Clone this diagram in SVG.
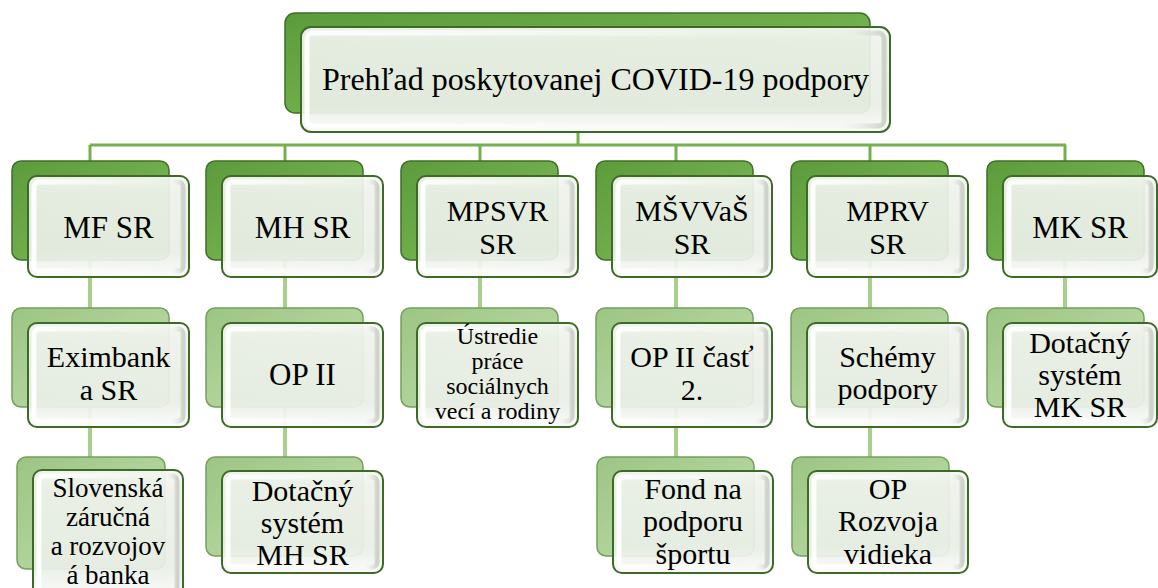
<svg xmlns="http://www.w3.org/2000/svg" width="1158" height="588" viewBox="0 0 1158 588">
<defs>
<linearGradient id="gDark" x1="0" y1="0" x2="1" y2="1">
<stop offset="0" stop-color="#5c9b3b"/>
<stop offset="0.5" stop-color="#6fad4b"/>
<stop offset="1" stop-color="#93c46f"/>
</linearGradient>
<linearGradient id="gLight" x1="0" y1="0" x2="1" y2="1">
<stop offset="0" stop-color="#9cc583"/>
<stop offset="0.5" stop-color="#afd299"/>
<stop offset="1" stop-color="#c7e0b6"/>
</linearGradient>
<linearGradient id="gFront" x1="0" y1="0" x2="0" y2="1">
<stop offset="0" stop-color="#f6f8f4"/>
<stop offset="0.15" stop-color="#eef2eb"/>
<stop offset="0.75" stop-color="#e9eee6"/>
<stop offset="1" stop-color="#fafbf9"/>
</linearGradient>
<linearGradient id="gBevel" x1="0" y1="0" x2="1" y2="0">
<stop offset="0" stop-color="#ffffff" stop-opacity="0.9"/>
<stop offset="0.9" stop-color="#ffffff" stop-opacity="0"/>
<stop offset="1" stop-color="#c9cfc6" stop-opacity="0.9"/>
</linearGradient>
</defs>
<style>
.bd{fill:url(#gDark);stroke:#3f6f29;stroke-width:1.5}
.bl{fill:url(#gLight);stroke:#759f5d;stroke-width:1.5}
.fr{fill:url(#gFront);fill-opacity:0.93;stroke:#3e6a27;stroke-width:2}
.bv{fill:none;stroke:url(#gBevel);stroke-width:5}
.cm{stroke:#74b04d;stroke-width:3;fill:none}
.cl{stroke:#a9cf8f;stroke-width:4;fill:none}
.tx{font-family:"Liberation Serif","Times New Roman",Tinos,"Noto Serif","DejaVu Serif",FreeSerif,Times,serif;fill:#000;text-anchor:middle}
.t0{font-size:32px}
.t1{font-size:31px}
.t2{font-size:30px}
.ts{font-size:24px}
.tm{font-size:27px}
</style>
<rect width="1158" height="588" fill="#ffffff"/>
<g id="connectors">
<line class="cm" x1="578" y1="130" x2="578" y2="145"/>
<line class="cm" x1="90" y1="145" x2="1066" y2="145"/>
<line class="cm" x1="90" y1="145" x2="90" y2="162"/>
<line class="cm" x1="285" y1="145" x2="285" y2="162"/>
<line class="cm" x1="480" y1="145" x2="480" y2="162"/>
<line class="cm" x1="676" y1="145" x2="676" y2="162"/>
<line class="cm" x1="870" y1="145" x2="870" y2="162"/>
<line class="cm" x1="1065" y1="145" x2="1065" y2="162"/>
<line class="cl" x1="90" y1="260" x2="90" y2="309"/>
<line class="cl" x1="285" y1="260" x2="285" y2="309"/>
<line class="cl" x1="480" y1="260" x2="480" y2="309"/>
<line class="cl" x1="676" y1="260" x2="676" y2="309"/>
<line class="cl" x1="870" y1="260" x2="870" y2="309"/>
<line class="cl" x1="1065" y1="260" x2="1065" y2="309"/>
<line class="cl" x1="90" y1="407" x2="90" y2="458"/>
<line class="cl" x1="285" y1="407" x2="285" y2="458"/>
<line class="cl" x1="676" y1="407" x2="676" y2="458"/>
<line class="cl" x1="870" y1="407" x2="870" y2="458"/>
</g>
<g id="root">
<rect class="bd" x="285" y="13" width="585" height="100" rx="10"/>
<rect class="fr" x="301" y="27" width="589" height="105" rx="10"/>
<rect class="bv" x="307" y="33" width="577" height="93" rx="6"/>
<text class="tx t0" x="595.5" y="90">Prehľad poskytovanej COVID-19 podpory</text>
</g>
<g id="mf-sr">
<rect class="bd" x="12" y="161" width="157" height="99" rx="9"/>
<rect class="fr" x="28" y="176" width="161" height="101" rx="9"/>
<rect class="bv" x="34" y="182" width="149" height="89" rx="5"/>
<text class="tx t1" x="108.5" y="238">MF SR</text>
</g>
<g id="mh-sr">
<rect class="bd" x="206" y="161" width="157" height="99" rx="9"/>
<rect class="fr" x="222" y="176" width="161" height="101" rx="9"/>
<rect class="bv" x="228" y="182" width="149" height="89" rx="5"/>
<text class="tx t1" x="302.5" y="238">MH SR</text>
</g>
<g id="mpsvr-sr">
<rect class="bd" x="401" y="161" width="157" height="99" rx="9"/>
<rect class="fr" x="417" y="176" width="161" height="101" rx="9"/>
<rect class="bv" x="423" y="182" width="149" height="89" rx="5"/>
<text class="tx t2" x="497.5" y="221">MPSVR</text>
<text class="tx t2" x="497.5" y="254">SR</text>
</g>
<g id="msvvas-sr">
<rect class="bd" x="596" y="161" width="157" height="99" rx="9"/>
<rect class="fr" x="612" y="176" width="160" height="101" rx="9"/>
<rect class="bv" x="618" y="182" width="148" height="89" rx="5"/>
<text class="tx t2" x="692" y="221">MŠVVaŠ</text>
<text class="tx t2" x="692" y="254">SR</text>
</g>
<g id="mprv-sr">
<rect class="bd" x="791" y="161" width="157" height="99" rx="9"/>
<rect class="fr" x="807" y="176" width="161" height="101" rx="9"/>
<rect class="bv" x="813" y="182" width="149" height="89" rx="5"/>
<text class="tx t2" x="887.5" y="221">MPRV</text>
<text class="tx t2" x="887.5" y="254">SR</text>
</g>
<g id="mk-sr">
<rect class="bd" x="987" y="161" width="157" height="99" rx="9"/>
<rect class="fr" x="1003" y="176" width="154" height="101" rx="9"/>
<rect class="bv" x="1009" y="182" width="142" height="89" rx="5"/>
<text class="tx t1" x="1080" y="238">MK SR</text>
</g>
<g id="eximbank">
<rect class="bl" x="12" y="308" width="157" height="99" rx="9"/>
<rect class="fr" x="28" y="323" width="161" height="104" rx="9"/>
<rect class="bv" x="34" y="329" width="149" height="92" rx="5"/>
<text class="tx t2" x="108.5" y="367">Eximbank</text>
<text class="tx t2" x="108.5" y="400">a SR</text>
</g>
<g id="op-ii">
<rect class="bl" x="206" y="308" width="157" height="99" rx="9"/>
<rect class="fr" x="222" y="323" width="161" height="104" rx="9"/>
<rect class="bv" x="228" y="329" width="149" height="92" rx="5"/>
<text class="tx t1" x="302.5" y="385">OP II</text>
</g>
<g id="ustredie">
<rect class="bl" x="401" y="308" width="157" height="99" rx="9"/>
<rect class="fr" x="417" y="323" width="161" height="104" rx="9"/>
<rect class="bv" x="423" y="329" width="149" height="92" rx="5"/>
<text class="tx ts" x="497.5" y="344">Ústredie</text>
<text class="tx ts" x="497.5" y="369">práce</text>
<text class="tx ts" x="497.5" y="394">sociálnych</text>
<text class="tx ts" x="497.5" y="419">vecí a rodiny</text>
</g>
<g id="op-ii-cast2">
<rect class="bl" x="596" y="308" width="157" height="99" rx="9"/>
<rect class="fr" x="612" y="323" width="160" height="104" rx="9"/>
<rect class="bv" x="618" y="329" width="148" height="92" rx="5"/>
<text class="tx t2" x="692" y="367">OP II časť</text>
<text class="tx t2" x="692" y="400">2.</text>
</g>
<g id="schemy">
<rect class="bl" x="791" y="308" width="157" height="99" rx="9"/>
<rect class="fr" x="807" y="323" width="161" height="104" rx="9"/>
<rect class="bv" x="813" y="329" width="149" height="92" rx="5"/>
<text class="tx t2" x="887.5" y="367">Schémy</text>
<text class="tx t2" x="887.5" y="399">podpory</text>
</g>
<g id="dotacny-mk">
<rect class="bl" x="987" y="308" width="157" height="99" rx="9"/>
<rect class="fr" x="1003" y="323" width="154" height="104" rx="9"/>
<rect class="bv" x="1009" y="329" width="142" height="92" rx="5"/>
<text class="tx t2" x="1080" y="353">Dotačný</text>
<text class="tx t2" x="1080" y="385">systém</text>
<text class="tx t2" x="1080" y="417">MK SR</text>
</g>
<g id="szrb">
<rect class="bl" x="17" y="457" width="148" height="112" rx="9"/>
<rect class="fr" x="33" y="470" width="150" height="128" rx="9"/>
<rect class="bv" x="39" y="476" width="138" height="116" rx="5"/>
<text class="tx tm" x="108" y="497">Slovenská</text>
<text class="tx tm" x="108" y="526">záručná</text>
<text class="tx tm" x="108" y="555">a rozvojov</text>
<text class="tx tm" x="108" y="584">á banka</text>
</g>
<g id="dotacny-mh">
<rect class="bl" x="206" y="457" width="157" height="99" rx="9"/>
<rect class="fr" x="222" y="471" width="161" height="102" rx="9"/>
<rect class="bv" x="228" y="477" width="149" height="90" rx="5"/>
<text class="tx t2" x="302.5" y="501">Dotačný</text>
<text class="tx t2" x="302.5" y="533">systém</text>
<text class="tx t2" x="302.5" y="565">MH SR</text>
</g>
<g id="fond-sport">
<rect class="bl" x="597" y="457" width="157" height="99" rx="9"/>
<rect class="fr" x="613" y="471" width="160" height="102" rx="9"/>
<rect class="bv" x="619" y="477" width="148" height="90" rx="5"/>
<text class="tx t2" x="693" y="499">Fond na</text>
<text class="tx t2" x="693" y="531">podporu</text>
<text class="tx t2" x="693" y="564">športu</text>
</g>
<g id="op-rv">
<rect class="bl" x="792" y="457" width="157" height="99" rx="9"/>
<rect class="fr" x="808" y="471" width="160" height="102" rx="9"/>
<rect class="bv" x="814" y="477" width="148" height="90" rx="5"/>
<text class="tx t2" x="888" y="499">OP</text>
<text class="tx t2" x="888" y="531">Rozvoja</text>
<text class="tx t2" x="888" y="564">vidieka</text>
</g>
</svg>
